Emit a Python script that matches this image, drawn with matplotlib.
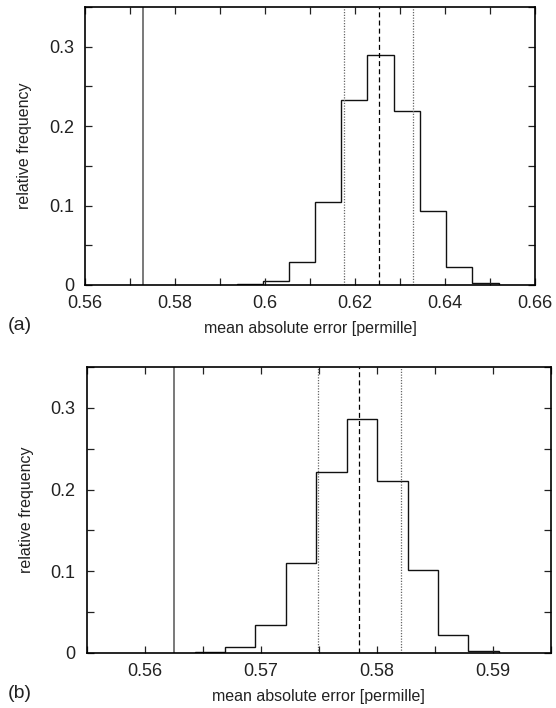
import matplotlib
matplotlib.use("Agg")
import matplotlib.pyplot as plt
from matplotlib.ticker import MultipleLocator

plt.rcParams['font.family'] = ['Liberation Sans', 'DejaVu Sans']
plt.rcParams['font.size'] = 11.5
plt.rcParams['text.color'] = '#222222'
plt.rcParams['axes.labelcolor'] = '#222222'
plt.rcParams['xtick.color'] = '#222222'
plt.rcParams['ytick.color'] = '#222222'
plt.rcParams['xtick.labelsize'] = 13
plt.rcParams['ytick.labelsize'] = 13

# (a) bootstrap distribution of the MAE
edges_a = [0.5937, 0.5996, 0.6053, 0.6112, 0.6170, 0.6227, 0.6286, 0.6344, 0.6402, 0.6461, 0.6519]
freq_a = [0.001, 0.005, 0.029, 0.105, 0.233, 0.290, 0.219, 0.093, 0.023, 0.0025]
ref_a = 0.5729
mean_a = 0.6253
band_a = [0.6175, 0.6330]

# (b)
edges_b = [0.5643, 0.5669, 0.5695, 0.5722, 0.5748, 0.5774, 0.5800, 0.5827, 0.5853, 0.5879, 0.5905]
freq_b = [0.0012, 0.0078, 0.034, 0.110, 0.221, 0.286, 0.211, 0.102, 0.022, 0.002]
ref_b = 0.5625
mean_b = 0.5785
band_b = [0.5749, 0.5821]

fig = plt.figure(figsize=(5.56, 7.08), dpi=100)
ax_a = fig.add_axes([0.1529, 0.5975, 0.8093, 0.3926])
ax_b = fig.add_axes([0.1560, 0.0777, 0.8345, 0.4039])


def draw_panel(ax, edges, freq, ref, mean, band, xlim, major, minor, fmt):
    ax.stairs(freq, edges, color='#111111', lw=1.0)
    ax.axvline(ref, color='#555555', lw=1.1)
    ax.axvline(mean, color='black', lw=0.9, ls=(0, (4, 2.5)))
    for b in band:
        ax.axvline(b, color='#666666', lw=0.9, ls=(0, (1, 1.2)))
    ax.set_xlim(*xlim)
    ax.set_ylim(0, 0.35)
    ax.xaxis.set_major_locator(MultipleLocator(major))
    ax.xaxis.set_minor_locator(MultipleLocator(minor))
    ax.yaxis.set_major_locator(MultipleLocator(0.1))
    ax.yaxis.set_minor_locator(MultipleLocator(0.05))
    ax.xaxis.set_major_formatter(fmt)
    ax.yaxis.set_major_formatter(lambda v, p: '0' if v == 0 else f'{v:g}')
    ax.tick_params(which='both', direction='in', top=True, right=True, length=5, width=0.9)
    ax.tick_params(axis='x', pad=7)
    ax.tick_params(axis='y', pad=8)
    for s in ax.spines.values():
        s.set_linewidth(1.2)
    ax.set_ylabel('relative frequency', labelpad=12)
    ax.set_xlabel('mean absolute error [permille]', labelpad=7)


draw_panel(ax_a, edges_a, freq_a, ref_a, mean_a, band_a, (0.56, 0.66), 0.02, 0.01,
           lambda v, p: f'{v:g}')
draw_panel(ax_b, edges_b, freq_b, ref_b, mean_b, band_b, (0.555, 0.595), 0.01, 0.005,
           lambda v, p: f'{v:.2f}')

fig.text(8 / 556, 1 - 326 / 708, '(a)', fontsize=14, va='center', ha='left')
fig.text(8 / 556, 1 - 693 / 708, '(b)', fontsize=14, va='center', ha='left')

fig.savefig('out.png', dpi=100)
